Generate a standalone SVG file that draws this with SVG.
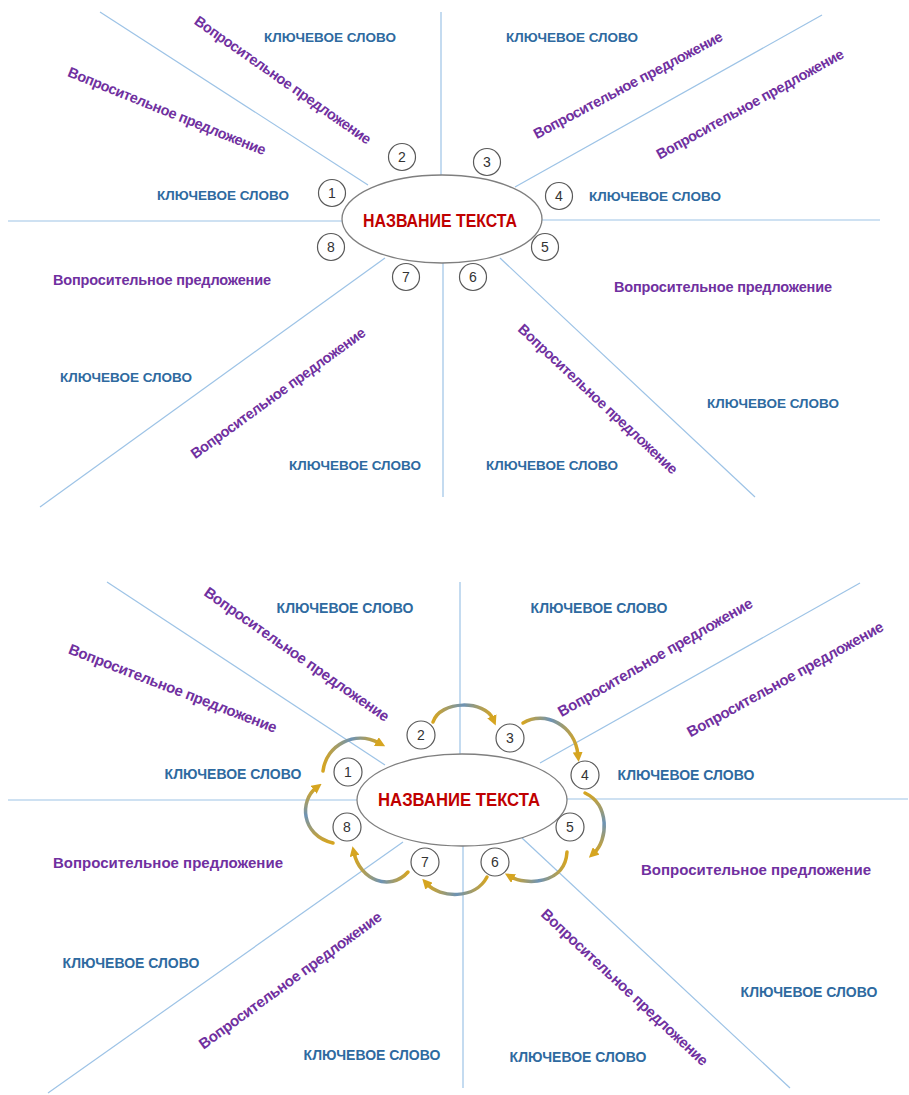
<svg xmlns="http://www.w3.org/2000/svg" width="909" height="1095" viewBox="0 0 909 1095">
<defs>
<style>
.ln{stroke:#9dc3e6;stroke-width:1.2;fill:none}
.kw{font-family:"Liberation Sans",Arial,sans-serif;font-weight:bold;font-size:13.5px;fill:#2e6aa0;text-anchor:middle;dominant-baseline:central}
.q{font-family:"Liberation Sans",Arial,sans-serif;font-weight:bold;font-size:14.5px;fill:#7030a0;text-anchor:middle;dominant-baseline:central}
.qb{font-size:15px}
.kb{font-size:14px}
.el{fill:#fff;stroke:#7f7f7f;stroke-width:1.3}
.ttl{font-family:"Liberation Sans",Arial,sans-serif;font-weight:bold;font-size:18px;fill:#c00000;text-anchor:middle;dominant-baseline:central}
.c{fill:#fff;stroke:#595959;stroke-width:1.2}
.n{font-family:"Liberation Sans",Arial,sans-serif;font-size:14px;fill:#333;text-anchor:middle;dominant-baseline:central}
.ah{fill:none;stroke-width:3.5;stroke-linecap:round}
.hg{stroke:url(#gh)}
.vg{stroke:url(#gv)}
</style>
<linearGradient id="gh" x1="0" y1="0" x2="1" y2="0">
<stop offset="0" stop-color="#d6a520"/><stop offset="0.5" stop-color="#6d93b5"/><stop offset="1" stop-color="#d6a520"/>
</linearGradient>
<linearGradient id="gv" x1="0" y1="0" x2="0" y2="1">
<stop offset="0" stop-color="#d6a520"/><stop offset="0.5" stop-color="#6d93b5"/><stop offset="1" stop-color="#d6a520"/>
</linearGradient>
<marker id="arr" viewBox="0 0 10 10" refX="3" refY="5" markerWidth="10" markerHeight="10" markerUnits="userSpaceOnUse" orient="auto">
<path d="M0,0 L10,5 L0,10 Z" fill="#d6a520"/>
</marker>
</defs>
<rect width="909" height="1095" fill="#fff"/>

<!-- ===== TOP DIAGRAM ===== -->
<g id="connectors-top">
<line class="ln" x1="8" y1="221" x2="342" y2="221"/>
<line class="ln" x1="542" y1="220" x2="880" y2="220"/>
<line class="ln" x1="441" y1="12" x2="441" y2="175"/>
<line class="ln" x1="443" y1="263" x2="443" y2="497"/>
<line class="ln" x1="100" y1="12" x2="368" y2="185"/>
<line class="ln" x1="822" y1="15" x2="515" y2="187"/>
<line class="ln" x1="40" y1="507" x2="385" y2="258"/>
<line class="ln" x1="500" y1="258" x2="755" y2="497"/>
</g>

<g id="title-top">
<ellipse class="el" cx="442" cy="219" rx="100" ry="44"/>
<text class="ttl" x="440" y="221" textLength="154" lengthAdjust="spacingAndGlyphs">НАЗВАНИЕ ТЕКСТА</text>
</g>

<g id="num1-top"><circle class="c" cx="332" cy="193" r="13.5"/><text class="n" x="332" y="193">1</text></g>
<g id="num2-top"><circle class="c" cx="402" cy="157" r="13.5"/><text class="n" x="402" y="157">2</text></g>
<g id="num3-top"><circle class="c" cx="487" cy="162" r="13.5"/><text class="n" x="487" y="162">3</text></g>
<g id="num4-top"><circle class="c" cx="559" cy="196" r="13.5"/><text class="n" x="559" y="196">4</text></g>
<g id="num5-top"><circle class="c" cx="545" cy="247" r="13.5"/><text class="n" x="545" y="247">5</text></g>
<g id="num6-top"><circle class="c" cx="473" cy="277" r="13.5"/><text class="n" x="473" y="277">6</text></g>
<g id="num7-top"><circle class="c" cx="406" cy="277" r="13.5"/><text class="n" x="406" y="277">7</text></g>
<g id="num8-top"><circle class="c" cx="331" cy="247" r="13.5"/><text class="n" x="331" y="247">8</text></g>

<g id="kw-top-1"><text class="kw" x="330" y="37">КЛЮЧЕВОЕ СЛОВО</text></g>
<g id="kw-top-2"><text class="kw" x="572" y="37">КЛЮЧЕВОЕ СЛОВО</text></g>
<g id="kw-top-3"><text class="kw" x="223" y="195">КЛЮЧЕВОЕ СЛОВО</text></g>
<g id="kw-top-4"><text class="kw" x="655" y="196">КЛЮЧЕВОЕ СЛОВО</text></g>
<g id="kw-top-5"><text class="kw" x="126" y="377">КЛЮЧЕВОЕ СЛОВО</text></g>
<g id="kw-top-6"><text class="kw" x="355" y="465">КЛЮЧЕВОЕ СЛОВО</text></g>
<g id="kw-top-7"><text class="kw" x="773" y="403">КЛЮЧЕВОЕ СЛОВО</text></g>
<g id="kw-top-8"><text class="kw" x="552" y="465">КЛЮЧЕВОЕ СЛОВО</text></g>

<g id="q-top-1"><text class="q" x="283" y="80" transform="rotate(35 283 80)" textLength="212">Вопросительное предложение</text></g>
<g id="q-top-2"><text class="q" x="167" y="111" transform="rotate(22 167 111)" textLength="212">Вопросительное предложение</text></g>
<g id="q-top-3"><text class="q" x="628" y="85" transform="rotate(-28 628 85)" textLength="212">Вопросительное предложение</text></g>
<g id="q-top-4"><text class="q" x="750" y="104" transform="rotate(-29 750 104)" textLength="212">Вопросительное предложение</text></g>
<g id="q-top-5"><text class="q" x="162" y="280" textLength="218">Вопросительное предложение</text></g>
<g id="q-top-6"><text class="q" x="278" y="393" transform="rotate(-36 278 393)" textLength="212">Вопросительное предложение</text></g>
<g id="q-top-7"><text class="q" x="723" y="287" textLength="218">Вопросительное предложение</text></g>
<g id="q-top-8"><text class="q" x="598" y="399" transform="rotate(43 598 399)" textLength="212">Вопросительное предложение</text></g>

<!-- ===== BOTTOM DIAGRAM ===== -->
<g id="connectors-bottom">
<line class="ln" x1="8" y1="800" x2="357" y2="800"/>
<line class="ln" x1="567" y1="799" x2="908" y2="799"/>
<line class="ln" x1="460" y1="582" x2="460" y2="754"/>
<line class="ln" x1="463" y1="846" x2="463" y2="1088"/>
<line class="ln" x1="107" y1="582" x2="385" y2="765"/>
<line class="ln" x1="860" y1="583" x2="540" y2="763"/>
<line class="ln" x1="48" y1="1093" x2="403" y2="842"/>
<line class="ln" x1="522" y1="838" x2="790" y2="1088"/>
<path class="ah hg" d="M323,771 C326,745 355,730 379,743" marker-end="url(#arr)"/>
<path class="ah hg" d="M433,722 C440,700 485,700 493,719" marker-end="url(#arr)"/>
<path class="ah hg" d="M523,723 C545,710 575,725 578,755" marker-end="url(#arr)"/>
<path class="ah vg" d="M585,793 C610,805 608,840 594,853" marker-end="url(#arr)"/>
<path class="ah hg" d="M567,852 C565,885 525,885 511,877" marker-end="url(#arr)"/>
<path class="ah hg" d="M487,877 C475,900 440,898 427,884" marker-end="url(#arr)"/>
<path class="ah hg" d="M408,872 C390,892 360,880 354,853" marker-end="url(#arr)"/>
<path class="ah vg" d="M333,843 C300,835 300,800 316,788" marker-end="url(#arr)"/>
</g>

<g id="title-bottom">
<ellipse class="el" cx="462" cy="800" rx="105" ry="46"/>
<text class="ttl" x="459" y="800" textLength="162" lengthAdjust="spacingAndGlyphs">НАЗВАНИЕ ТЕКСТА</text>
</g>

<g id="num1-bottom"><circle class="c" cx="348" cy="772" r="14"/><text class="n" x="348" y="772">1</text></g>
<g id="num2-bottom"><circle class="c" cx="421" cy="735" r="14"/><text class="n" x="421" y="735">2</text></g>
<g id="num3-bottom"><circle class="c" cx="510" cy="738" r="14"/><text class="n" x="510" y="738">3</text></g>
<g id="num4-bottom"><circle class="c" cx="585" cy="775" r="14"/><text class="n" x="585" y="775">4</text></g>
<g id="num5-bottom"><circle class="c" cx="570" cy="827" r="14"/><text class="n" x="570" y="827">5</text></g>
<g id="num6-bottom"><circle class="c" cx="495" cy="862" r="14"/><text class="n" x="495" y="862">6</text></g>
<g id="num7-bottom"><circle class="c" cx="425" cy="862" r="14"/><text class="n" x="425" y="862">7</text></g>
<g id="num8-bottom"><circle class="c" cx="347" cy="827" r="14"/><text class="n" x="347" y="827">8</text></g>

<g id="kw-bot-1"><text class="kw kb" x="345" y="608">КЛЮЧЕВОЕ СЛОВО</text></g>
<g id="kw-bot-2"><text class="kw kb" x="599" y="608">КЛЮЧЕВОЕ СЛОВО</text></g>
<g id="kw-bot-3"><text class="kw kb" x="233" y="774">КЛЮЧЕВОЕ СЛОВО</text></g>
<g id="kw-bot-4"><text class="kw kb" x="686" y="775">КЛЮЧЕВОЕ СЛОВО</text></g>
<g id="kw-bot-5"><text class="kw kb" x="131" y="963">КЛЮЧЕВОЕ СЛОВО</text></g>
<g id="kw-bot-6"><text class="kw kb" x="372" y="1055">КЛЮЧЕВОЕ СЛОВО</text></g>
<g id="kw-bot-7"><text class="kw kb" x="809" y="992">КЛЮЧЕВОЕ СЛОВО</text></g>
<g id="kw-bot-8"><text class="kw kb" x="578" y="1057">КЛЮЧЕВОЕ СЛОВО</text></g>

<g id="q-bot-1"><text class="q qb" x="297" y="654" transform="rotate(35 297 654)" textLength="222">Вопросительное предложение</text></g>
<g id="q-bot-2"><text class="q qb" x="173" y="688" transform="rotate(21 173 688)" textLength="222">Вопросительное предложение</text></g>
<g id="q-bot-3"><text class="q qb" x="655" y="657" transform="rotate(-30 655 657)" textLength="222">Вопросительное предложение</text></g>
<g id="q-bot-4"><text class="q qb" x="785" y="679" transform="rotate(-29 785 679)" textLength="222">Вопросительное предложение</text></g>
<g id="q-bot-5"><text class="q qb" x="168" y="862" textLength="230">Вопросительное предложение</text></g>
<g id="q-bot-6"><text class="q qb" x="290" y="980" transform="rotate(-36 290 980)" textLength="222">Вопросительное предложение</text></g>
<g id="q-bot-7"><text class="q qb" x="756" y="869" textLength="230">Вопросительное предложение</text></g>
<g id="q-bot-8"><text class="q qb" x="625" y="987" transform="rotate(43 625 987)" textLength="222">Вопросительное предложение</text></g>
</svg>
